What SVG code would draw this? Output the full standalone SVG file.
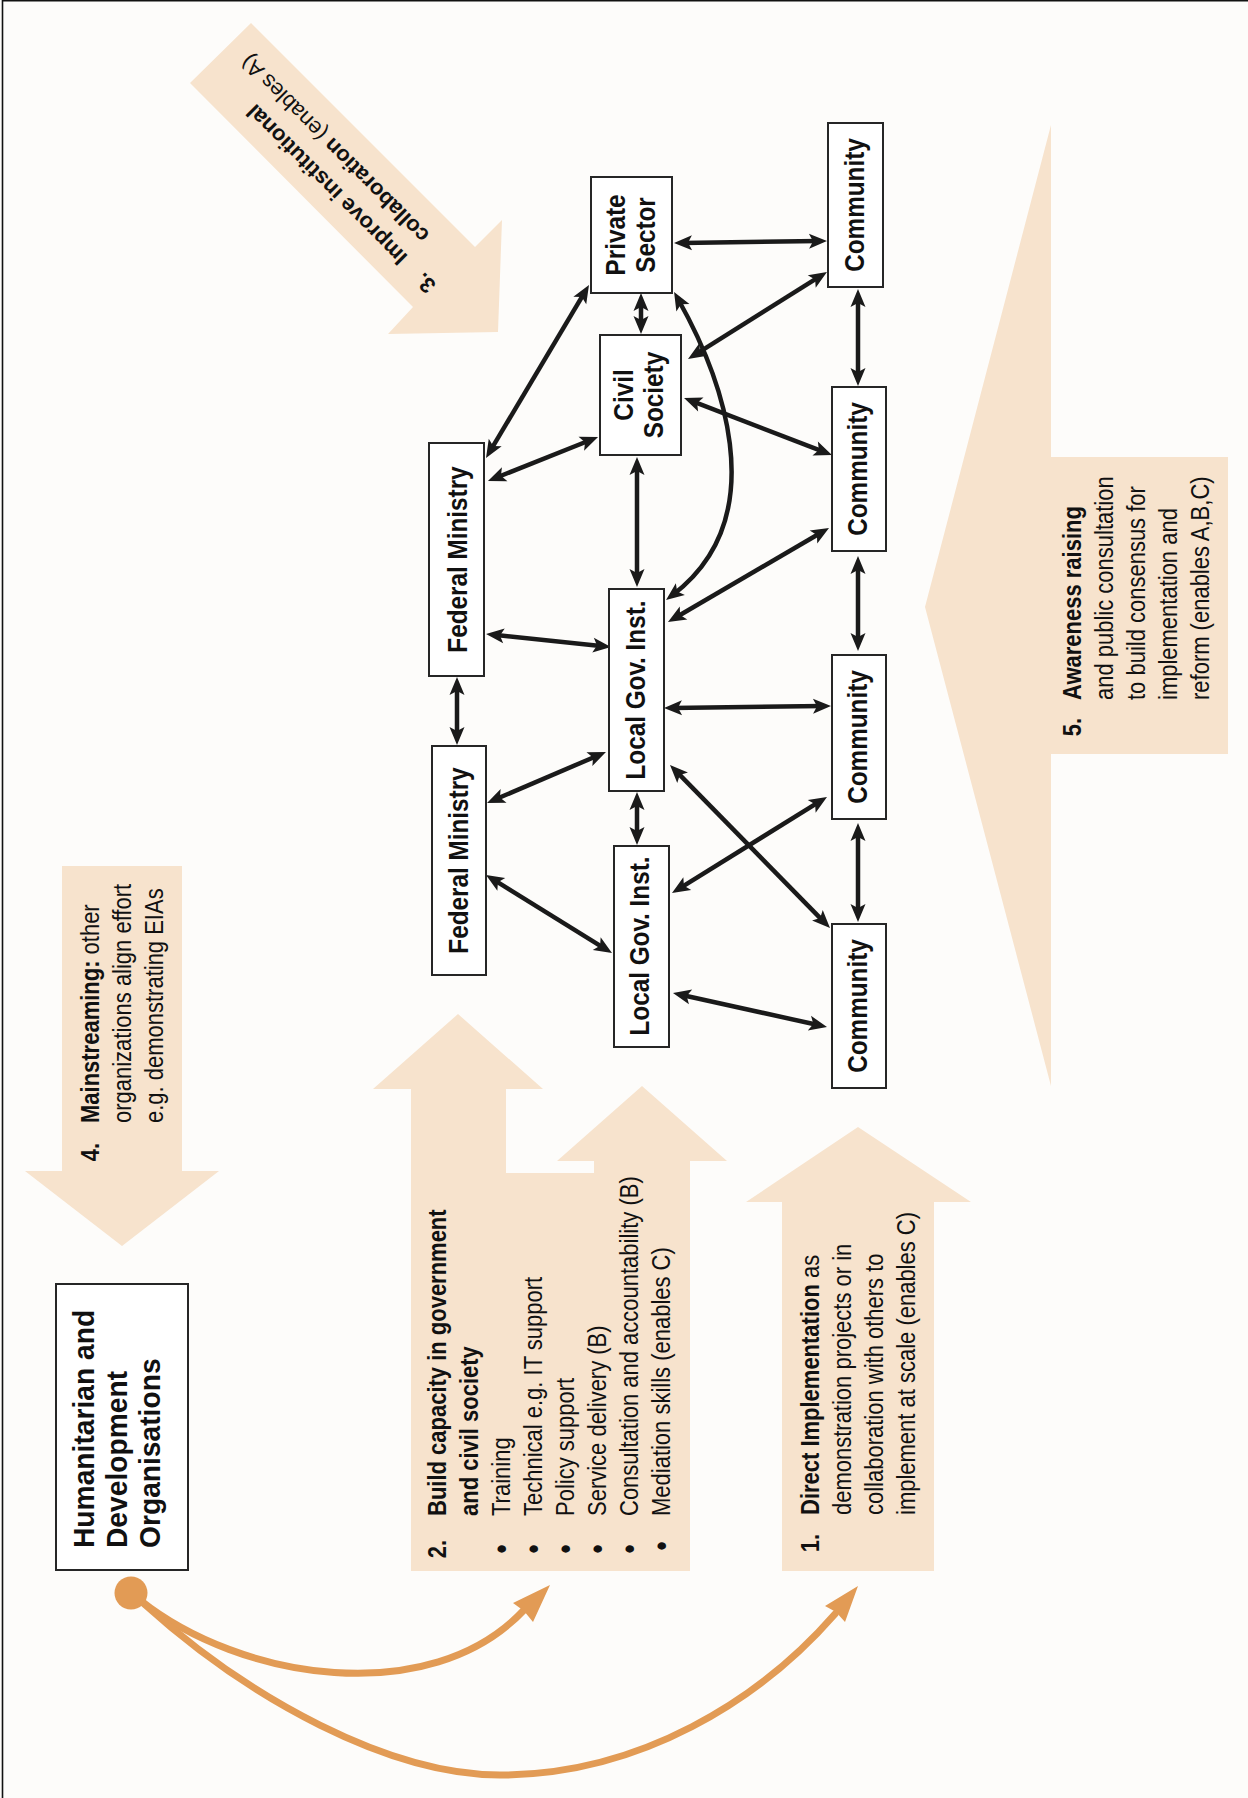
<svg xmlns="http://www.w3.org/2000/svg" width="1248" height="1798" viewBox="0 0 1248 1798">
  <defs>
    <style>
      .bg { fill: #fdfcfa; }
      .frame { stroke: #111; stroke-width: 1.6; fill: none; }
      .band { fill: #f7e3cd; }
      .node rect { fill: #ffffff; stroke: #262626; stroke-width: 2; }
      .nt { font-family: "Liberation Sans", Arial, sans-serif; font-weight: 700; font-size: 27px; fill: #111; text-anchor: middle; }
      .ht { font-family: "Liberation Sans", Arial, sans-serif; font-weight: 700; font-size: 30px; fill: #111; }
      .at { font-family: "Liberation Sans", Arial, sans-serif; font-size: 25px; fill: #111; }
      .at.diag { font-size: 22px; }
      .b { font-weight: 700; }
      .mid { text-anchor: middle; }
      .bul { font-size: 31px; }
      .conn line, .conn path { stroke: #1a1a1a; stroke-width: 4.5; fill: none; marker-start: url(#ah); marker-end: url(#ah); }
      .flow path.c { stroke: #e29b55; stroke-width: 7; fill: none; stroke-linecap: round; }
      .flow .hd { fill: #e29b55; }
    </style>
    <marker id="ah" viewBox="-12 -10 22 20" refX="0" refY="0" markerWidth="22" markerHeight="20" markerUnits="userSpaceOnUse" orient="auto-start-reverse">
      <path d="M8,0 L-10,-7.5 L-6,0 L-10,7.5 Z" fill="#1a1a1a"/>
    </marker>
  </defs>

  <rect class="bg" x="0" y="0" width="1248" height="1798"/>
  <path class="frame" d="M2.5,1798 V0.8 H1248"/>

  <!-- 3. collaboration arrow (diagonal) -->
  <g id="step3">
    <polygon class="band" points="190,83 251,23 475,247 502,220 498,332 388,334 413,307"/>
    <text class="at diag" transform="translate(408.6,256) rotate(225)">
      <tspan x="-40" y="0" class="b">3.</tspan>
      <tspan x="0" y="0" class="b">Improve institutional</tspan>
      <tspan x="0" y="31"><tspan class="b">collaboration</tspan> (enables A)</tspan>
    </text>
  </g>

  <!-- 4. mainstreaming arrow -->
  <g id="step4">
    <polygon class="band" points="62,866 182,866 182,1171 219,1171 122,1246 25,1171 62,1171"/>
    <text class="at b mid" transform="translate(99,1152) rotate(-90) scale(.88,1)">4.</text>
    <text class="at" transform="translate(99,1123) rotate(-90) scale(.88,1)">
      <tspan x="0" y="0"><tspan class="b">Mainstreaming:</tspan> other</tspan>
      <tspan x="0" y="32">organizations align effort</tspan>
      <tspan x="0" y="64">e.g. demonstrating EIAs</tspan>
    </text>
  </g>

  <!-- 5. awareness raising arrow -->
  <g id="step5">
    <polygon class="band" points="1228,457 1228,754 1051,754 1051,1086 925,607 1051,125 1051,457"/>
    <text class="at b mid" transform="translate(1081,727) rotate(-90) scale(.88,1)">5.</text>
    <text class="at" transform="translate(1081,700) rotate(-90) scale(.88,1)">
      <tspan x="0" y="0" class="b">Awareness raising</tspan>
      <tspan x="0" y="32">and public consultation</tspan>
      <tspan x="0" y="64">to build consensus for</tspan>
      <tspan x="0" y="96">implementation and</tspan>
      <tspan x="0" y="128">reform (enables A,B,C)</tspan>
    </text>
  </g>

  <!-- 2. capacity building arrow (two heads) -->
  <g id="step2">
    <polygon class="band" points="411,1571 411,1089 373,1089 458,1014 543,1089 506,1089 506,1173 594,1173 594,1161 557,1161 642,1086 727,1161 690,1161 690,1571"/>
    <text class="at mid" transform="translate(446,1546) rotate(-90) scale(.88,1)">
      <tspan x="0" y="0" class="b">2.</tspan>
      <tspan x="0" y="66" class="bul">•</tspan>
      <tspan x="0" y="98" class="bul">•</tspan>
      <tspan x="0" y="130" class="bul">•</tspan>
      <tspan x="0" y="162" class="bul">•</tspan>
      <tspan x="0" y="194" class="bul">•</tspan>
      <tspan x="0" y="226" class="bul">•</tspan>
    </text>
    <text class="at" transform="translate(446,1516) rotate(-90) scale(.88,1)">
      <tspan x="0" y="0" class="b">Build capacity in government</tspan>
      <tspan x="0" y="32" class="b">and civil society</tspan>
      <tspan x="0" y="64">Training</tspan>
      <tspan x="0" y="96">Technical e.g. IT support</tspan>
      <tspan x="0" y="128">Policy support</tspan>
      <tspan x="0" y="160">Service delivery (B)</tspan>
      <tspan x="0" y="192">Consultation and accountability (B)</tspan>
      <tspan x="0" y="224">Mediation skills (enables C)</tspan>
    </text>
  </g>

  <!-- 1. direct implementation arrow -->
  <g id="step1">
    <polygon class="band" points="782,1571 782,1202 746,1202 858,1127 971,1202 934,1202 934,1571"/>
    <text class="at b mid" transform="translate(819,1543) rotate(-90) scale(.88,1)">1.</text>
    <text class="at" transform="translate(819,1515) rotate(-90) scale(.88,1)">
      <tspan x="0" y="0"><tspan class="b">Direct Implementation</tspan> as</tspan>
      <tspan x="0" y="32">demonstration projects or in</tspan>
      <tspan x="0" y="64">collaboration with others to</tspan>
      <tspan x="0" y="96">implement at scale (enables C)</tspan>
    </text>
  </g>

  <!-- actor network connectors -->
  <g id="connectors" class="conn">
    <line x1="682" y1="242.9" x2="819" y2="241.1"/>
    <line x1="641" y1="301" x2="641" y2="326"/>
    <line x1="490.1" y1="451.1" x2="584.9" y2="291.9"/>
    <line x1="495.4" y1="478" x2="590.6" y2="440"/>
    <line x1="694.8" y1="354.8" x2="820.2" y2="276.2"/>
    <line x1="691.5" y1="400.9" x2="824.5" y2="452.1"/>
    <line x1="637" y1="465" x2="637" y2="579"/>
    <path d="M678,299 C718,370 778,515 672.4,595.2"/>
    <line x1="858" y1="297" x2="858" y2="378"/>
    <line x1="822.1" y1="532" x2="674.9" y2="618"/>
    <line x1="858" y1="564" x2="858" y2="643"/>
    <line x1="494" y1="634.8" x2="603" y2="646.2"/>
    <line x1="457" y1="685" x2="457" y2="737"/>
    <line x1="494.4" y1="799.8" x2="598.6" y2="755.2"/>
    <line x1="672" y1="707.9" x2="823" y2="706.1"/>
    <line x1="637" y1="800" x2="637" y2="837"/>
    <line x1="675.6" y1="770.7" x2="824.4" y2="922.3"/>
    <line x1="678.8" y1="888.8" x2="820.2" y2="801.2"/>
    <line x1="492.8" y1="879.2" x2="605.2" y2="948.8"/>
    <line x1="680.8" y1="994.7" x2="819.2" y2="1025.3"/>
    <line x1="858" y1="831" x2="858" y2="914"/>
  </g>

  <!-- actors -->
  <g id="private-sector" class="node">
    <rect x="591" y="177" width="81" height="116"/>
    <text class="nt" transform="translate(625,235) rotate(-90) scale(.9,1)"><tspan x="0" y="0">Private</tspan><tspan x="0" y="30">Sector</tspan></text>
  </g>
  <g id="civil-society" class="node">
    <rect x="600" y="335" width="81" height="120"/>
    <text class="nt" transform="translate(633,395) rotate(-90) scale(.9,1)"><tspan x="0" y="0">Civil</tspan><tspan x="0" y="30">Society</tspan></text>
  </g>
  <g id="community-1" class="node">
    <rect x="828" y="123" width="55" height="164"/>
    <text class="nt" transform="translate(864,205) rotate(-90) scale(.9,1)">Community</text>
  </g>
  <g id="community-2" class="node">
    <rect x="832" y="387" width="54" height="164"/>
    <text class="nt" transform="translate(867,469) rotate(-90) scale(.9,1)">Community</text>
  </g>
  <g id="community-3" class="node">
    <rect x="832" y="655" width="54" height="164"/>
    <text class="nt" transform="translate(867,737) rotate(-90) scale(.9,1)">Community</text>
  </g>
  <g id="community-4" class="node">
    <rect x="832" y="924" width="54" height="164"/>
    <text class="nt" transform="translate(867,1006) rotate(-90) scale(.9,1)">Community</text>
  </g>
  <g id="federal-ministry-1" class="node">
    <rect x="429" y="443" width="55" height="233"/>
    <text class="nt" transform="translate(467,559.5) rotate(-90) scale(.9,1)">Federal Ministry</text>
  </g>
  <g id="federal-ministry-2" class="node">
    <rect x="432" y="746" width="54" height="229"/>
    <text class="nt" transform="translate(468,860.5) rotate(-90) scale(.9,1)">Federal Ministry</text>
  </g>
  <g id="local-gov-1" class="node">
    <rect x="609" y="589" width="55" height="202"/>
    <text class="nt" transform="translate(645,690) rotate(-90) scale(.9,1)">Local Gov. Inst.</text>
  </g>
  <g id="local-gov-2" class="node">
    <rect x="614" y="846" width="55" height="201"/>
    <text class="nt" transform="translate(649,946) rotate(-90) scale(.9,1)">Local Gov. Inst.</text>
  </g>

  <g id="organisations" class="node">
    <rect x="56" y="1284" width="132" height="286"/>
    <text class="ht" transform="translate(94,1548) rotate(-90) scale(.94,1)">
      <tspan x="0" y="0">Humanitarian and</tspan>
      <tspan x="0" y="33">Development</tspan>
      <tspan x="0" y="66">Organisations</tspan>
    </text>
  </g>

  <!-- support flows from the organisations -->
  <g id="flows" class="flow">
    <path class="c" d="M140,1600 C240,1680 430,1710 524,1610"/>
    <polygon class="hd" points="550,1585 513,1603 524,1611 533,1622"/>
    <path class="c" d="M143,1603 C250,1700 390,1775 500,1775 C640,1775 760,1700 835,1614"/>
    <polygon class="hd" points="858,1586 825,1606 836,1612 845,1622"/>
    <circle class="hd" cx="131" cy="1593" r="16.5"/>
  </g>
</svg>
